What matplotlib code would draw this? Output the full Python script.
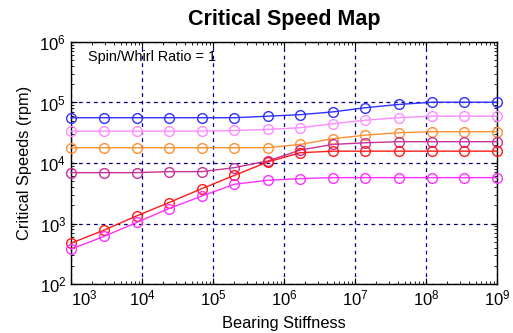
import numpy as np
import matplotlib
matplotlib.use("Agg")
import matplotlib.pyplot as plt
from matplotlib.ticker import LogLocator, NullFormatter

plt.rcParams['font.family'] = ['Liberation Sans', 'DejaVu Sans']

stiffness = [1.0e3, 2.9e3, 8.4e3, 2.4e4, 7.0e4, 2.0e5, 5.9e5, 1.7e6, 4.9e6, 1.4e7, 4.1e7, 1.2e8, 3.4e8, 1.0e9]

mode_blue = [56000, 56000, 56000, 56000, 56000, 56000, 59400, 63000, 70000, 82000, 92700, 101000, 101000, 101000]
mode_pink = [33600, 33600, 33600, 33600, 33600, 34500, 35900, 38300, 44600, 51000, 56000, 59400, 59400, 59400]
mode_orange = [17900, 17900, 17900, 17900, 17900, 17900, 17900, 20300, 25200, 28900, 31600, 32900, 32900, 32900]
mode_purple = [6930, 6930, 6930, 7200, 7200, 8380, 10800, 16400, 20300, 21600, 22500, 22500, 22500, 22500]
mode_red = [473, 774, 1335, 2220, 3780, 6250, 10400, 14800, 15700, 15700, 15700, 15700, 15700, 15700]
mode_magenta = [377, 611, 1040, 1770, 2850, 4450, 5180, 5520, 5730, 5730, 5730, 5730, 5730, 5730]

series = [
    (mode_blue, '#3030ff'),
    (mode_pink, '#ff8cff'),
    (mode_orange, '#ff9030'),
    (mode_purple, '#c8309a'),
    (mode_red, '#ff1a1a'),
    (mode_magenta, '#ff30ff'),
]

fig = plt.figure(figsize=(5.13, 3.33), dpi=100)
ax = fig.add_axes([0.1384, 0.1471, 0.8304, 0.7268])

for vals, col in series:
    ax.plot(stiffness, vals, '-', color=col, lw=1.0, marker='o', ms=7,
            mfc='none', mec=col, mew=1.0, clip_on=False, zorder=3)

ax.set_xscale('log')
ax.set_yscale('log')
ax.set_xlim(1e3, 1e9)
ax.set_ylim(1e2, 1e6)
ax.xaxis.set_major_locator(LogLocator(base=10, numticks=20))
ax.yaxis.set_major_locator(LogLocator(base=10, numticks=20))
ax.xaxis.set_minor_locator(LogLocator(base=10, subs=np.arange(2, 10), numticks=20))
ax.yaxis.set_minor_locator(LogLocator(base=10, subs=np.arange(2, 10), numticks=20))
ax.xaxis.set_minor_formatter(NullFormatter())
ax.yaxis.set_minor_formatter(NullFormatter())

ax.grid(True, which='major', color='#000080', linestyle=(0, (3, 3)), lw=0.9)
ax.tick_params(which='both', direction='in', top=True, right=True, labelsize=12)
ax.tick_params(which='major', length=4)
ax.tick_params(which='minor', length=2)
for s in ax.spines.values():
    s.set_linewidth(1.0)

ax.set_title('Critical Speed Map', fontsize=15.5, fontweight='bold', pad=12)
ax.set_xlabel('Bearing Stiffness', fontsize=11.8, labelpad=5)
ax.set_ylabel('Critical Speeds (rpm)', fontsize=11.8, labelpad=5)
ax.text(0.04, 0.938, 'Spin/Whirl Ratio = 1', transform=ax.transAxes, fontsize=10.4,
        va='center', ha='left')

fig.canvas.draw()
xlabels = ax.get_xticklabels()
for lab in xlabels:
    if abs(lab.get_position()[0] - 1e3) < 1:
        lab.set_horizontalalignment('left')

fig.savefig('out.png', dpi=100)
